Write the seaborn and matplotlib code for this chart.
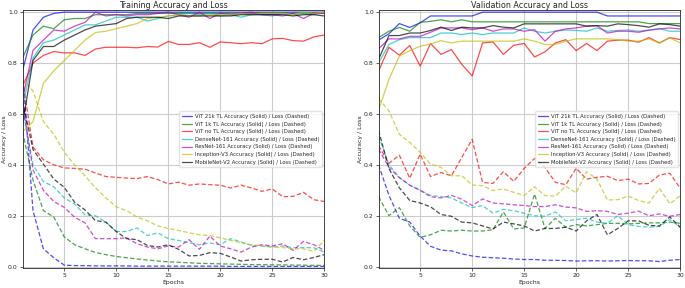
import numpy as np
import pandas as pd
import matplotlib
matplotlib.use("Agg")
import matplotlib.pyplot as plt
import seaborn as sns

sns.set_style("ticks")
plt.rcParams['font.family'] = ['DejaVu Sans']
plt.rcParams['lines.scale_dashes'] = False

epochs = list(range(1, 31))

models = ['ViT 21k TL', 'ViT 1k TL', 'ViT no TL', 'DenseNet-161',
          'ResNet-161', 'Inception-V3', 'MobileNet-V2']
colors = ['b', 'g', 'r', 'c', 'm', 'y', 'k']

# training accuracy
tr_acc_vit21k = [0.77, 0.93, 0.98, 0.995, 1.0, 1.0, 1.0, 1.0, 1.0, 1.0, 1.0, 1.0, 1.0, 1.0, 1.0,
                 1.0, 1.0, 1.0, 1.0, 1.0, 1.0, 1.0, 1.0, 1.0, 1.0, 1.0, 1.0, 1.0, 1.0, 1.0]
tr_acc_vit1k = [0.82, 0.91, 0.945, 0.935, 0.97, 0.975, 0.975, 0.99, 0.99, 0.99, 0.99, 0.995, 0.995, 0.995, 0.995,
                0.995, 0.995, 0.995, 0.995, 0.995, 0.995, 0.995, 0.995, 0.995, 0.995, 0.995, 0.995, 0.995, 0.995, 0.995]
tr_acc_vitno = [0.71, 0.80, 0.83, 0.845, 0.84, 0.84, 0.83, 0.855, 0.862, 0.862, 0.862, 0.86, 0.865, 0.863, 0.885,
                0.873, 0.873, 0.88, 0.862, 0.883, 0.88, 0.876, 0.88, 0.876, 0.895, 0.897, 0.888, 0.886, 0.903, 0.91]
tr_acc_dense = [0.63, 0.82, 0.88, 0.89, 0.91, 0.93, 0.95, 0.95, 0.965, 0.98, 0.98, 0.98, 0.965, 0.975, 0.985,
                0.99, 0.995, 0.99, 0.995, 0.985, 0.99, 0.98, 0.99, 0.99, 0.985, 0.995, 0.99, 0.995, 0.99, 1.0]
tr_acc_resnet = [0.66, 0.85, 0.89, 0.93, 0.925, 0.945, 0.96, 1.0, 0.985, 0.99, 0.985, 0.99, 0.99, 0.995, 1.0,
                 0.99, 0.98, 1.0, 0.975, 0.995, 0.99, 0.995, 1.0, 0.99, 0.99, 0.985, 0.995, 0.975, 0.995, 0.995]
tr_acc_incep = [0.53, 0.57, 0.72, 0.77, 0.81, 0.85, 0.89, 0.92, 0.925, 0.935, 0.945, 0.955, 0.975, 0.98, 0.985,
                0.99, 0.985, 0.985, 0.99, 0.99, 0.99, 0.995, 0.99, 0.995, 0.995, 0.995, 0.99, 1.0, 0.995, 1.0]
tr_acc_mobile = [0.56, 0.81, 0.865, 0.865, 0.89, 0.91, 0.93, 0.945, 0.95, 0.955, 0.975, 0.98, 0.98, 0.98, 0.975,
                 0.985, 0.985, 0.985, 0.985, 0.985, 0.985, 0.99, 0.99, 0.99, 0.99, 0.99, 0.985, 0.99, 0.99, 0.985]

# training loss
tr_loss_vit21k = [0.76, 0.22, 0.07, 0.035, 0.006, 0.004, 0.004, 0.003, 0.003, 0.003, 0.003, 0.002, 0.002, 0.002, 0.002,
                  0.002, 0.002, 0.002, 0.002, 0.002, 0.001, 0.001, 0.001, 0.001, 0.001, 0.001, 0.001, 0.001, 0.001, 0.001]
tr_loss_vit1k = [0.53, 0.34, 0.22, 0.195, 0.117, 0.086, 0.07, 0.056, 0.047, 0.04, 0.035, 0.03, 0.026, 0.022, 0.019,
                 0.017, 0.015, 0.013, 0.012, 0.011, 0.01, 0.009, 0.008, 0.008, 0.007, 0.007, 0.006, 0.006, 0.005, 0.005]
tr_loss_vitno = [0.73, 0.47, 0.42, 0.40, 0.388, 0.386, 0.383, 0.368, 0.354, 0.351, 0.348, 0.346, 0.354, 0.342, 0.325,
                 0.332, 0.32, 0.325, 0.322, 0.32, 0.309, 0.32, 0.309, 0.296, 0.305, 0.275, 0.276, 0.292, 0.263, 0.256]
tr_loss_dense = [0.62, 0.40, 0.334, 0.314, 0.27, 0.246, 0.203, 0.2, 0.175, 0.138, 0.138, 0.152, 0.122, 0.133, 0.11,
                 0.103, 0.094, 0.086, 0.093, 0.086, 0.11, 0.097, 0.083, 0.081, 0.077, 0.081, 0.074, 0.075, 0.074, 0.057]
tr_loss_resnet = [0.64, 0.38, 0.30, 0.256, 0.233, 0.194, 0.172, 0.11, 0.11, 0.11, 0.113, 0.09, 0.077, 0.07, 0.081,
                  0.077, 0.106, 0.068, 0.12, 0.081, 0.07, 0.057, 0.077, 0.086, 0.081, 0.09, 0.064, 0.099, 0.086, 0.064]
tr_loss_incep = [0.74, 0.69, 0.57, 0.52, 0.45, 0.40, 0.357, 0.31, 0.27, 0.235, 0.22, 0.195, 0.18, 0.16, 0.15,
                 0.142, 0.133, 0.125, 0.122, 0.113, 0.103, 0.094, 0.086, 0.082, 0.078, 0.075, 0.07, 0.07, 0.06, 0.103]
tr_loss_mobile = [0.65, 0.46, 0.403, 0.344, 0.312, 0.253, 0.223, 0.181, 0.175, 0.138, 0.11, 0.106, 0.083, 0.077, 0.086,
                  0.068, 0.042, 0.044, 0.055, 0.052, 0.038, 0.022, 0.027, 0.029, 0.029, 0.018, 0.036, 0.027, 0.036, 0.047]

# validation accuracy
va_acc_vit21k = [0.89, 0.915, 0.955, 0.94, 0.958, 0.985, 0.985, 0.985, 0.985, 0.985, 1.0, 1.0, 1.0, 1.0, 1.0,
                 1.0, 1.0, 1.0, 1.0, 1.0, 1.0, 1.0, 0.985, 0.985, 0.985, 0.985, 0.985, 0.985, 0.985, 0.985]
va_acc_vit1k = [0.90, 0.925, 0.94, 0.925, 0.96, 0.964, 0.97, 0.962, 0.97, 0.962, 0.962, 0.962, 0.962, 0.962, 0.962,
                0.962, 0.962, 0.962, 0.962, 0.962, 0.962, 0.962, 0.962, 0.962, 0.962, 0.962, 0.955, 0.955, 0.955, 0.955]
va_acc_vitno = [0.768, 0.862, 0.831, 0.869, 0.788, 0.877, 0.834, 0.853, 0.795, 0.749, 0.879, 0.883, 0.834, 0.87, 0.877,
                0.824, 0.844, 0.879, 0.892, 0.849, 0.877, 0.849, 0.886, 0.89, 0.89, 0.882, 0.9, 0.879, 0.9, 0.892]
va_acc_dense = [0.80, 0.873, 0.892, 0.90, 0.90, 0.90, 0.918, 0.918, 0.912, 0.918, 0.912, 0.918, 0.918, 0.918, 0.938,
                0.925, 0.918, 0.925, 0.93, 0.928, 0.925, 0.938, 0.925, 0.928, 0.93, 0.925, 0.93, 0.935, 0.925, 0.925]
va_acc_resnet = [0.856, 0.895, 0.895, 0.905, 0.905, 0.921, 0.938, 0.938, 0.938, 0.931, 0.938, 0.925, 0.934, 0.934, 0.925,
                 0.931, 0.886, 0.925, 0.934, 0.938, 0.945, 0.947, 0.918, 0.925, 0.925, 0.921, 0.929, 0.934, 0.938, 0.934]
va_acc_incep = [0.614, 0.736, 0.827, 0.849, 0.866, 0.875, 0.888, 0.879, 0.886, 0.886, 0.886, 0.886, 0.886, 0.886, 0.895,
                0.886, 0.873, 0.873, 0.886, 0.895, 0.895, 0.895, 0.895, 0.892, 0.886, 0.886, 0.895, 0.879, 0.899, 0.879]
va_acc_mobile = [0.814, 0.908, 0.908, 0.918, 0.918, 0.928, 0.941, 0.928, 0.941, 0.938, 0.938, 0.947, 0.941, 0.938, 0.954,
                 0.954, 0.954, 0.954, 0.954, 0.954, 0.945, 0.947, 0.945, 0.954, 0.951, 0.947, 0.941, 0.954, 0.951, 0.945]

# validation loss
va_loss_vit21k = [0.40, 0.28, 0.19, 0.175, 0.12, 0.08, 0.065, 0.062, 0.05, 0.042, 0.037, 0.035, 0.033, 0.03, 0.028,
                  0.028, 0.025, 0.025, 0.024, 0.022, 0.023, 0.023, 0.022, 0.023, 0.024, 0.023, 0.023, 0.02, 0.025, 0.028]
va_loss_vit1k = [0.275, 0.20, 0.232, 0.16, 0.115, 0.125, 0.143, 0.14, 0.143, 0.14, 0.14, 0.145, 0.215, 0.148, 0.152,
                 0.285, 0.15, 0.19, 0.155, 0.165, 0.16, 0.165, 0.17, 0.17, 0.168, 0.17, 0.172, 0.172, 0.175, 0.17]
va_loss_vitno = [0.475, 0.406, 0.438, 0.347, 0.442, 0.354, 0.37, 0.357, 0.429, 0.50, 0.331, 0.327, 0.373, 0.335, 0.386,
                 0.425, 0.39, 0.331, 0.322, 0.386, 0.344, 0.351, 0.355, 0.338, 0.344, 0.325, 0.327, 0.36, 0.367, 0.308]
va_loss_dense = [0.515, 0.40, 0.35, 0.32, 0.30, 0.28, 0.275, 0.27, 0.25, 0.232, 0.24, 0.21, 0.225, 0.22, 0.21,
                 0.20, 0.198, 0.215, 0.18, 0.185, 0.19, 0.175, 0.17, 0.20, 0.165, 0.158, 0.155, 0.158, 0.185, 0.155]
va_loss_resnet = [0.462, 0.39, 0.35, 0.32, 0.30, 0.275, 0.27, 0.28, 0.265, 0.24, 0.266, 0.25, 0.247, 0.243, 0.24,
                  0.236, 0.236, 0.243, 0.234, 0.231, 0.217, 0.22, 0.217, 0.205, 0.21, 0.218, 0.20, 0.207, 0.198, 0.205]
va_loss_incep = [0.66, 0.612, 0.52, 0.488, 0.449, 0.403, 0.39, 0.357, 0.357, 0.321, 0.318, 0.299, 0.305, 0.292, 0.279,
                 0.314, 0.279, 0.277, 0.316, 0.29, 0.373, 0.344, 0.262, 0.263, 0.277, 0.26, 0.25, 0.308, 0.247, 0.279]
va_loss_mobile = [0.535, 0.385, 0.31, 0.26, 0.25, 0.235, 0.205, 0.198, 0.175, 0.172, 0.16, 0.148, 0.175, 0.168, 0.16,
                  0.14, 0.15, 0.15, 0.155, 0.14, 0.18, 0.205, 0.125, 0.15, 0.18, 0.18, 0.162, 0.16, 0.195, 0.155]

train_acc = [tr_acc_vit21k, tr_acc_vit1k, tr_acc_vitno, tr_acc_dense, tr_acc_resnet, tr_acc_incep, tr_acc_mobile]
train_loss = [tr_loss_vit21k, tr_loss_vit1k, tr_loss_vitno, tr_loss_dense, tr_loss_resnet, tr_loss_incep, tr_loss_mobile]
val_acc = [va_acc_vit21k, va_acc_vit1k, va_acc_vitno, va_acc_dense, va_acc_resnet, va_acc_incep, va_acc_mobile]
val_loss = [va_loss_vit21k, va_loss_vit1k, va_loss_vitno, va_loss_dense, va_loss_resnet, va_loss_incep, va_loss_mobile]


def draw(ax, accs, losses, title):
    for name, c, acc, loss in zip(models, colors, accs, losses):
        sns.lineplot(x=epochs, y=acc, color=c, alpha=0.7, linewidth=0.9, ax=ax,
                     label=name + ' Accuracy (Solid) / Loss (Dashed)')
        sns.lineplot(x=epochs, y=loss, color=c, alpha=0.7, linewidth=0.9, ax=ax,
                     linestyle=(0, (3.2, 1.6)))
    ax.set_title(title, fontsize=5.8, pad=2)
    ax.set_xlabel('Epochs', fontsize=4.4, labelpad=1)
    ax.set_ylabel('Accuracy / Loss', fontsize=4.4, labelpad=1)
    ax.set_xlim(1, 30)
    ax.set_ylim(-0.007, 1.007)
    ax.set_xticks([5, 10, 15, 20, 25, 30])
    ax.set_yticks([0.0, 0.2, 0.4, 0.6, 0.8, 1.0])
    ax.tick_params(labelsize=4.4, length=2, width=0.5, pad=1.5)
    ax.grid(True, color='#cccccc', linewidth=0.8)
    for s in ax.spines.values():
        s.set_linewidth(0.6)
    ax.legend(loc='center right', fontsize=3.75, frameon=True, handlelength=1.9,
              handletextpad=0.7, labelspacing=0.5, borderpad=0.5, borderaxespad=0.35,
              framealpha=0.8, edgecolor='#dddddd')


fig, axes = plt.subplots(1, 2, figsize=(6.85, 2.88), dpi=100)
draw(axes[0], train_acc, train_loss, 'Training Accuracy and Loss')
draw(axes[1], val_acc, val_loss, 'Validation Accuracy and Loss')
fig.subplots_adjust(left=0.033, right=0.993, top=0.964, bottom=0.068, wspace=0.18)
fig.savefig('out.png', dpi=100)
